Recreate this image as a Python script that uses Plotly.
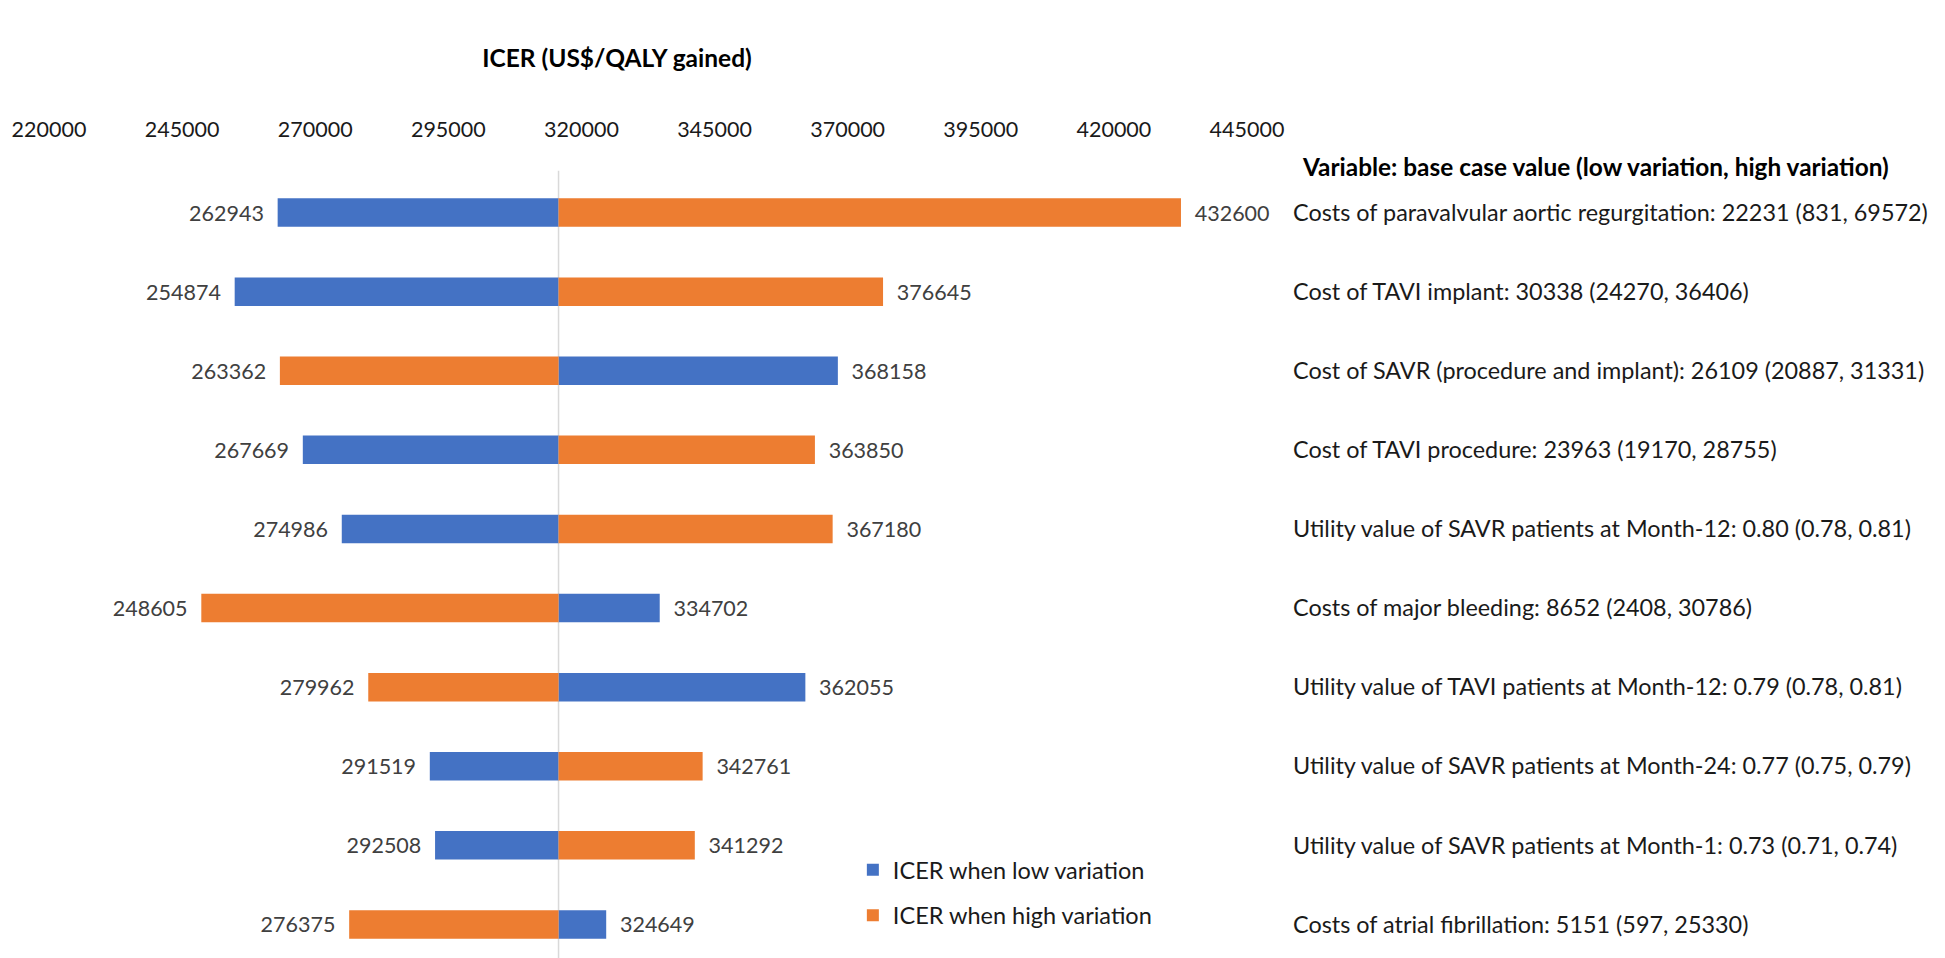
import plotly.graph_objects as go

# ---------------- data ----------------
variables = [
    "Costs of paravalvular aortic regurgitation: 22231 (831, 69572)",
    "Cost of TAVI implant: 30338 (24270, 36406)",
    "Cost of SAVR (procedure and implant): 26109 (20887, 31331)",
    "Cost of TAVI procedure: 23963 (19170, 28755)",
    "Utility value of SAVR patients at Month-12: 0.80 (0.78, 0.81)",
    "Costs of major bleeding: 8652 (2408, 30786)",
    "Utility value of TAVI patients at Month-12: 0.79 (0.78, 0.81)",
    "Utility value of SAVR patients at Month-24: 0.77 (0.75, 0.79)",
    "Utility value of SAVR patients at Month-1: 0.73 (0.71, 0.74)",
    "Costs of atrial fibrillation: 5151 (597, 25330)",
]
icer_low = [262943, 254874, 368158, 267669, 274986, 334702, 362055, 291519, 292508, 324649]
icer_high = [432600, 376645, 263362, 363850, 367180, 248605, 279962, 342761, 341292, 276375]
base_icer = 315700
tick_values = list(range(220000, 445001, 25000))
tick_labels = [str(v) for v in tick_values]

BLUE = "#4472C4"
ORANGE = "#ED7D31"
FONT = "Lato, 'Open Sans', sans-serif"
FS = 21.5
FS_R = 23.4


def labels(vals):
    out = []
    for v in vals:
        out.append(f"{v}\u2002" if v < base_icer else f"\u2002{v}")
    return out


fig = go.Figure()
for i, (name, vals, col) in enumerate([("ICER when low variation", icer_low, BLUE),
                                       ("ICER when high variation", icer_high, ORANGE)]):
    fig.add_trace(go.Bar(
        y=variables,
        x=[v - base_icer for v in vals],
        base=base_icer,
        orientation="h",
        name=name,
        legendgroup=f"g{i}",
        marker=dict(color=col, line=dict(width=0)),
        width=0.36,
        text=labels(vals),
        textposition="outside",
        constraintext="none",
        cliponaxis=False,
        outsidetextfont=dict(family=FONT, size=FS, color="#404040"),
        hoverinfo="skip",
    ))

fig.add_shape(type="line", xref="x", yref="paper",
              x0=base_icer, x1=base_icer, y0=0, y1=1.003,
              line=dict(color="#d9d9d9", width=1.5), layer="below")

fig.update_layout(
    width=1945, height=958,
    margin=dict(l=41, r=706, t=165, b=2),
    paper_bgcolor="white", plot_bgcolor="white",
    barmode="overlay",
    font=dict(family=FONT, size=FS, color="#1a1a1a"),
    title=dict(text="<b>ICER (US$/QALY gained)</b>", x=609 / 1945, y=1 - 50 / 958,
               xanchor="center", yanchor="middle",
               font=dict(family=FONT, size=24.5, color="#000000")),
    xaxis=dict(range=[220000, 445000], side="top", tickvals=tick_values, ticktext=tick_labels,
               showgrid=False, zeroline=False, showline=False, ticks="",
               ticklabelstandoff=31, automargin=False,
               tickfont=dict(family=FONT, size=FS, color="#1a1a1a")),
    yaxis=dict(autorange="reversed", side="right", showgrid=False, zeroline=False,
               showline=False, ticks="", ticklabelstandoff=45, automargin=False,
               tickfont=dict(family=FONT, size=FS_R, color="#1a1a1a")),
    legend=dict(x=0.671, y=0.1467, xanchor="left", yanchor="top",
                bgcolor="rgba(255,255,255,0)", font=dict(family=FONT, size=23.5, color="#1a1a1a"),
                traceorder="grouped", tracegroupgap=12, itemwidth=30),
    showlegend=True,
    annotations=[dict(text="<b>Variable: base case value (low variation, high variation)</b>",
                      xref="paper", yref="paper", x=(1292 - 41) / 1198, y=(956 - 158) / 791,
                      xanchor="left", yanchor="middle", showarrow=False,
                      font=dict(family=FONT, size=24.4, color="#000000"))],
)

fig.write_html("out.html")
